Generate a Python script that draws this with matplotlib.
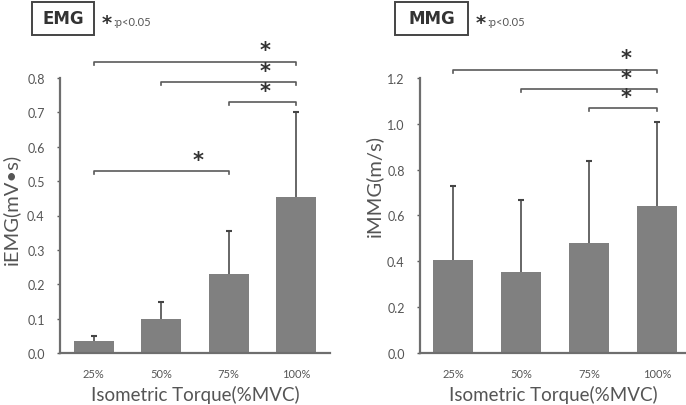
import numpy as np
import matplotlib
matplotlib.use("Agg")
import matplotlib.pyplot as plt
from matplotlib.patches import Rectangle

plt.rcParams['font.family'] = ['Lato', 'DejaVu Sans']

# data
levels = ['25%', '50%', '75%', '100%']
emg_mean = [0.035, 0.100, 0.230, 0.455]
emg_sd = [0.015, 0.048, 0.125, 0.245]
mmg_mean = [0.405, 0.355, 0.479, 0.643]
mmg_sd = [0.325, 0.312, 0.358, 0.364]

# significance brackets: (from, to, height)
emg_sig = [(0, 3, 0.848), (1, 3, 0.787), (2, 3, 0.730), (0, 2, 0.530)]
mmg_sig = [(0, 3, 1.237), (1, 3, 1.150), (2, 3, 1.070)]

W, H = 686, 406
fig = plt.figure(figsize=(W / 100, H / 100), dpi=100)

txt = '#555555'
bar_c = '#808080'
line_c = '#5a5a5a'


def panel(rect, means, sd, sig, ymax, step, ylabel, xlim, title, tbox):
    ax = fig.add_axes([rect[0] / W, 1 - rect[3] / H, (rect[1] - rect[0]) / W, (rect[3] - rect[2]) / H])
    x = np.arange(len(levels))
    top = np.array(means) + np.array(sd)
    ax.bar(x, means, width=0.59, color=bar_c, zorder=2)
    # upper error bars only
    ax.vlines(x, means, top, color=line_c, lw=1.3, zorder=1)
    ax.plot(x, top, ls='none', marker='_', ms=5, mew=1.5, color='#444444', zorder=1)
    ax.set_xlim(*xlim)
    ax.set_ylim(0, ymax)
    ax.set_yticks(np.arange(0, ymax + 1e-9, step))
    ax.yaxis.set_major_formatter(matplotlib.ticker.FormatStrFormatter('%.1f'))
    ax.set_xticks(x)
    ax.set_xticklabels(levels)
    ax.tick_params(axis='x', length=0, labelsize=8, labelcolor=txt, pad=11)
    ax.tick_params(axis='y', length=2, width=1, color=line_c, labelsize=9, labelcolor=txt, pad=9)
    for s in ['top', 'right']:
        ax.spines[s].set_visible(False)
    for s in ['left', 'bottom']:
        ax.spines[s].set_color('#6e6e6e')
        ax.spines[s].set_linewidth(1.6)
    ax.set_xlabel('Isometric Torque(%MVC)', fontsize=13.5, color=txt, labelpad=4)
    ax.set_ylabel(ylabel, fontsize=14.5, color=txt)
    h = 0.011 * ymax
    for i, j, y in sig:
        ax.plot([i, i, j, j], [y - h, y, y, y - h], color=line_c, lw=1.2, clip_on=False)
        ax.annotate('*', (j - 0.46, y), xytext=(0, 8), textcoords='offset points',
                    ha='center', va='center', fontsize=15, fontweight='bold', color='#333333',
                    family='DejaVu Sans', annotation_clip=False)
    # title box
    x0, x1, y0, y1 = tbox
    fig.patches.append(Rectangle((x0 / W, 1 - y1 / H), (x1 - x0) / W, (y1 - y0) / H,
                                 transform=fig.transFigure, fill=False, ec='#444444', lw=1.4))
    fig.text((x0 + x1) / 2 / W, 1 - (y0 + y1) / 2 / H, title, ha='center', va='center',
             fontsize=12, fontweight='bold', color='#333333', family='DejaVu Sans')
    fig.text((x1 + 13) / W, 1 - 24 / H, '*', ha='center', va='center', fontsize=14,
             fontweight='bold', color='#333333', family='DejaVu Sans')
    fig.text((x1 + 19) / W, 1 - 22 / H, ':p<0.05', ha='left', va='center', fontsize=8,
             color=txt)
    return ax


ax1 = panel((60, 330, 79, 354), emg_mean, emg_sd, emg_sig, 0.8, 0.1, 'iEMG(mV\u2022s)',
            (-0.5, 3.5), 'EMG', (32, 94, 3, 36))
ax1.yaxis.set_label_coords(-0.148, 0.527)
ax2 = panel((420, 686, 79, 354), mmg_mean, mmg_sd, mmg_sig, 1.2, 0.2, 'iMMG(m/s)',
            (-0.49, 3.42), 'MMG', (395, 468, 3, 36))
ax2.yaxis.set_label_coords(-0.139, 0.61)

fig.savefig('out.png', dpi=100, facecolor='white')
